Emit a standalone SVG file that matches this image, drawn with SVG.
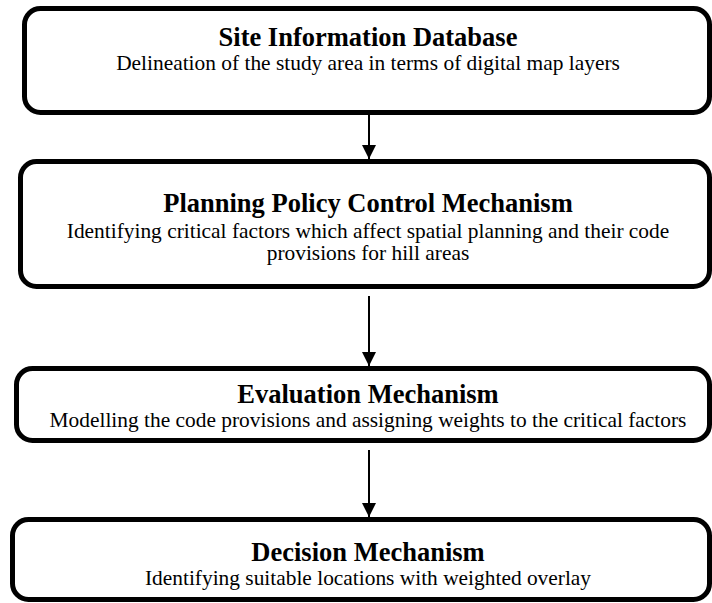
<svg xmlns="http://www.w3.org/2000/svg" width="712" height="603" viewBox="0 0 712 603">
<style>
.box{fill:#fff;stroke:#000;stroke-width:5}
.t{font-family:"Liberation Serif","Times New Roman",serif;font-weight:bold;font-size:26.5px;text-anchor:middle;fill:#000}
.s{font-family:"Liberation Serif","Times New Roman",serif;font-size:21.4px;text-anchor:middle;fill:#000}
.c{stroke:#000;stroke-width:2;fill:none}
</style>
<defs>
<marker id="ah" markerWidth="14" markerHeight="14" refX="14" refY="7" orient="auto" markerUnits="userSpaceOnUse">
<path d="M0,0 L14,7 L0,14 Z" fill="#000"/>
</marker>
</defs>
<rect x="0" y="0" width="712" height="603" fill="#fff"/>
<g id="connectors">
<line class="c" x1="369" y1="114" x2="369" y2="159" marker-end="url(#ah)"/>
<line class="c" x1="369" y1="296" x2="369" y2="366" marker-end="url(#ah)"/>
<line class="c" x1="369" y1="450" x2="369" y2="517" marker-end="url(#ah)"/>
</g>
<g id="site-information-database">
<rect class="box" x="24.5" y="8.5" width="685" height="104" rx="16"/>
<text class="t" x="368" y="46">Site Information Database</text>
<text class="s" x="368" y="70">Delineation of the study area in terms of digital map layers</text>
</g>
<g id="planning-policy-control-mechanism">
<rect class="box" x="20.5" y="161.5" width="689" height="125" rx="16"/>
<text class="t" x="368" y="212">Planning Policy Control Mechanism</text>
<text class="s" x="368" y="238">Identifying critical factors which affect spatial planning and their code</text>
<text class="s" x="368" y="260">provisions for hill areas</text>
</g>
<g id="evaluation-mechanism">
<rect class="box" x="16.5" y="368.5" width="693" height="72" rx="16"/>
<text class="t" x="368" y="403">Evaluation Mechanism</text>
<text class="s" x="368" y="427">Modelling the code provisions and assigning weights to the critical factors</text>
</g>
<g id="decision-mechanism">
<rect class="box" x="12.5" y="519.5" width="697" height="80" rx="16"/>
<text class="t" x="368" y="561">Decision Mechanism</text>
<text class="s" x="368" y="585">Identifying suitable locations with weighted overlay</text>
</g>
</svg>
